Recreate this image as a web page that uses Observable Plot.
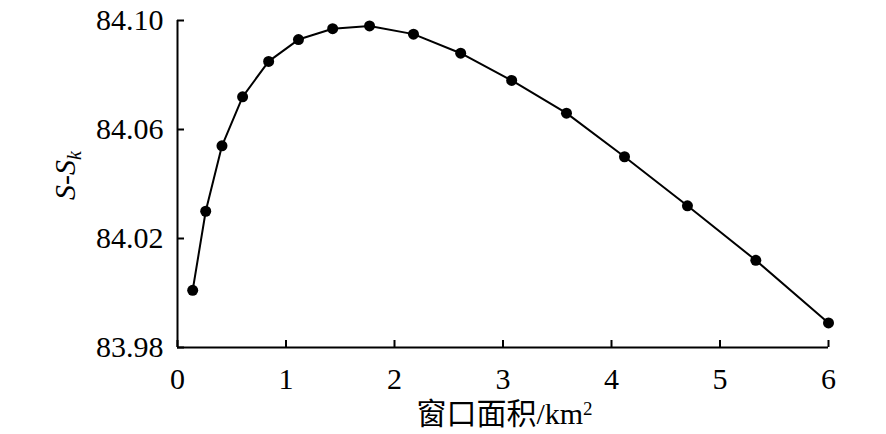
<!DOCTYPE html>
<html><head><meta charset="utf-8">
<script src="https://cdn.jsdelivr.net/npm/d3@7"></script>
<script src="https://cdn.jsdelivr.net/npm/@observablehq/plot@0.6"></script>
<style>body{margin:0;background:#fff} svg{display:block} svg text{font-family:"Liberation Serif","Tinos","Times New Roman","DejaVu Serif",serif}</style>
</head><body><div id="chart"></div>
<script>
const windowArea = [0.14, 0.26, 0.41, 0.60, 0.84, 1.115, 1.43, 1.77, 2.175, 2.61, 3.08, 3.585, 4.12, 4.70, 5.33, 6.0];
const sMinusSk = [84.001, 84.030, 84.054, 84.072, 84.085, 84.093, 84.097, 84.098, 84.095, 84.088, 84.078, 84.066, 84.050, 84.032, 84.012, 83.989];
const xTicks = [0, 1, 2, 3, 4, 5, 6];
const yTicks = [83.98, 84.02, 84.06, 84.10];
const xLabelMain = "窗口面积/km";
const xLabelSup = "2";
const yLabelMain = "S-S";
const yLabelSub = "k";

const table = windowArea.map((x, i) => ({x, y: sMinusSk[i]}));

const W = 886, H = 434, mL = 177, mR = 58, mT = 20, mB = 87;

const chart = Plot.plot({
  width: W, height: H,
  marginLeft: mL, marginRight: mR, marginTop: mT, marginBottom: mB,
  x: {domain: [0, 6]},
  y: {domain: [83.98, 84.10]},
  style: {fontSize: "30px", color: "#000", background: "#fff"},
  marks: [
    Plot.axisX(xTicks, {tickSize: -7, tickPadding: 27, label: null, strokeWidth: 2, fontSize: 30}),
    Plot.axisY(yTicks, {tickSize: -7, tickPadding: 21, label: null, strokeWidth: 2, fontSize: 30, tickFormat: d => d.toFixed(2)}),
    Plot.ruleX([0], {strokeWidth: 2}),
    Plot.ruleY([83.98], {strokeWidth: 2}),
    Plot.line(table, {x: "x", y: "y", curve: "linear", strokeWidth: 2, stroke: "#000"}),
    Plot.dot(table, {x: "x", y: "y", r: 5.5, fill: "#000", stroke: "none"})
  ]
});

const svg = d3.select(chart);
// x label
const xl = svg.append("text")
  .attr("x", (mL + W - mR) / 2 + 2).attr("y", 424)
  .attr("text-anchor", "middle")
  .style("font-family", '"Liberation Serif","Tinos","DejaVu Serif","Noto Sans CJK SC",serif')
  .attr("font-size", 30).attr("fill", "#000");
xl.append("tspan").text(xLabelMain);
xl.append("tspan").attr("dy", "-0.45em").attr("font-size", 19).text(xLabelSup);
// y label
const yl = svg.append("text")
  .attr("transform", `translate(75,${(mT + H - mB) / 2 - 8}) rotate(-90)`)
  .attr("text-anchor", "middle")
  .attr("font-style", "italic")
  .attr("font-size", 30).attr("fill", "#000");
yl.append("tspan").text(yLabelMain);
yl.append("tspan").attr("dy", "0.3em").attr("font-size", 20).text(yLabelSub);

document.getElementById("chart").appendChild(chart);
</script>
</body></html>
